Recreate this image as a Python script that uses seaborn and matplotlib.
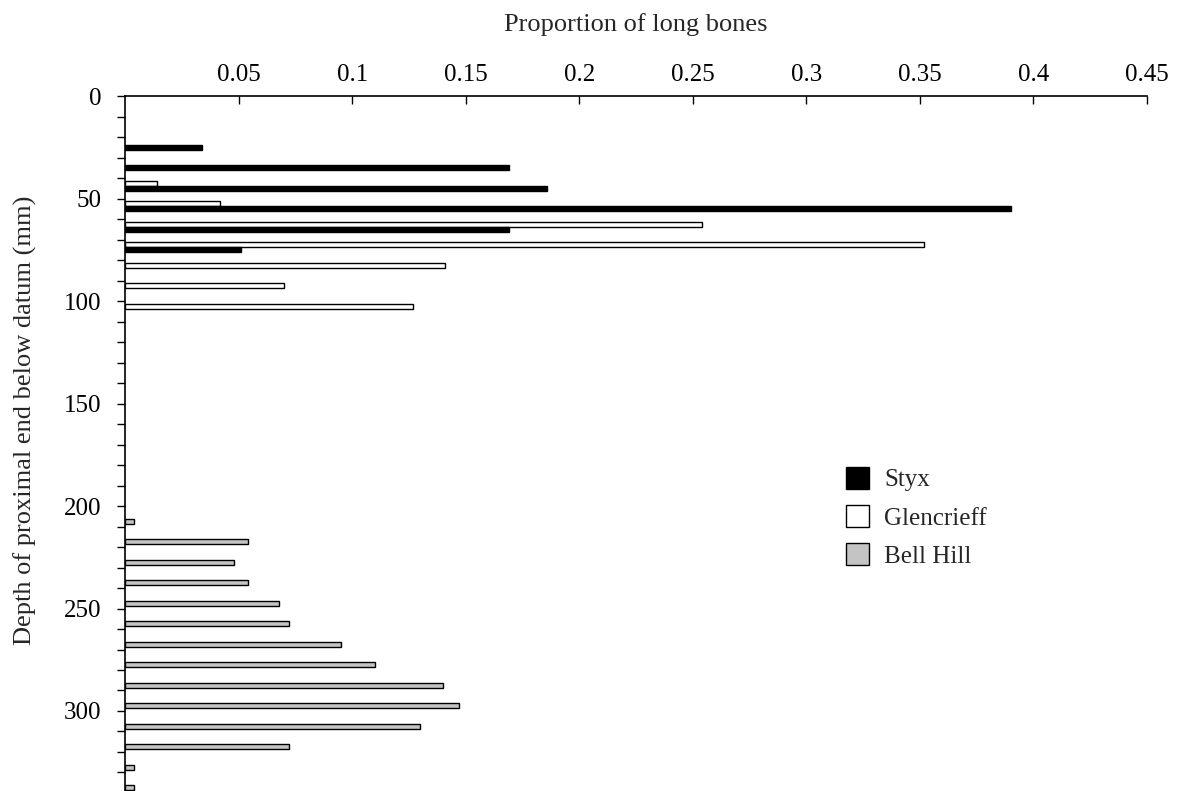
import matplotlib
matplotlib.use("Agg")
import matplotlib.pyplot as plt
from matplotlib.ticker import MultipleLocator, FixedLocator
import pandas as pd
import seaborn as sns

# Depth bins (mm, bin midpoints of 10 mm classes) and proportion of long bones
styx_depth = [25, 35, 45, 55, 65, 75]
styx_prop = [0.034, 0.169, 0.186, 0.390, 0.169, 0.051]

glencrieff_depth = [45, 55, 65, 75, 85, 95, 105]
glencrieff_prop = [0.014, 0.042, 0.254, 0.352, 0.141, 0.070, 0.127]

bellhill_depth = [205, 215, 225, 235, 245, 255, 265, 275, 285, 295, 305, 315, 325, 335]
bellhill_prop = [0.004, 0.054, 0.048, 0.054, 0.068, 0.072, 0.095, 0.110,
                 0.140, 0.147, 0.130, 0.072, 0.004, 0.004]

site_order = ["Glencrieff", "Styx", "Bell Hill"]
legend_order = ["Styx", "Glencrieff", "Bell Hill"]
site_colors = {"Styx": "#000000", "Glencrieff": "#ffffff", "Bell Hill": "#c4c4c4"}

x_ticks = [0.05, 0.1, 0.15, 0.2, 0.25, 0.3, 0.35, 0.4, 0.45]
x_tick_labels = ["0.05", "0.1", "0.15", "0.2", "0.25", "0.3", "0.35", "0.4", "0.45"]

frames = [
    pd.DataFrame({"site": "Styx", "depth": styx_depth, "prop": styx_prop}),
    pd.DataFrame({"site": "Glencrieff", "depth": glencrieff_depth, "prop": glencrieff_prop}),
    pd.DataFrame({"site": "Bell Hill", "depth": bellhill_depth, "prop": bellhill_prop}),
]
df = pd.concat(frames, ignore_index=True)

sns.set_style("ticks")
plt.rcParams["font.family"] = ["Liberation Serif", "DejaVu Serif"]

FS = 18

fig = plt.figure(figsize=(11.8, 7.91), dpi=100)
ax = fig.add_axes([0.106, -0.0025, 0.866, 0.881])

sns.barplot(
    data=df, x="prop", y="depth", hue="site", hue_order=site_order,
    orient="y", native_scale=True, width=0.74, errorbar=None,
    palette=site_colors, edgecolor="black", linewidth=1.0,
    legend=False, ax=ax,
)

# Depth runs downward from the top axis
ax.set_ylim(340, 0)
ax.set_xlim(0, 0.45)

ax.xaxis.tick_top()
ax.xaxis.set_label_position("top")
ax.xaxis.set_major_locator(FixedLocator(x_ticks))
ax.set_xticklabels(x_tick_labels)
ax.tick_params(axis="x", direction="in", length=6, width=1, pad=7, labelsize=FS, colors="black")

ax.yaxis.set_major_locator(MultipleLocator(50))
ax.yaxis.set_minor_locator(MultipleLocator(10))
ax.tick_params(axis="y", which="both", direction="out", length=6, width=1, pad=11, labelsize=FS, colors="black")

for side in ("right", "bottom"):
    ax.spines[side].set_visible(False)
for side in ("left", "top"):
    ax.spines[side].set_color("black")
    ax.spines[side].set_linewidth(1.2)

ax.set_xlabel("Proportion of long bones", fontsize=FS + 1, labelpad=24)
ax.set_ylabel("Depth of proximal end below datum (mm)", fontsize=FS + 1)
ax.yaxis.set_label_coords(-0.086, 0.535)

# Legend entries in site order, using the drawn bar containers
handles = {}
for cont, name in zip(ax.containers, site_order):
    handles[name] = cont.patches[0]
ax.legend(
    [handles[n] for n in legend_order], legend_order,
    loc="upper left", bbox_to_anchor=(0.683, 0.50), frameon=False,
    fontsize=FS, handlelength=0.95, handleheight=0.95, handletextpad=0.6,
    labelspacing=0.55,
)

fig.savefig("out.png", dpi=100)
